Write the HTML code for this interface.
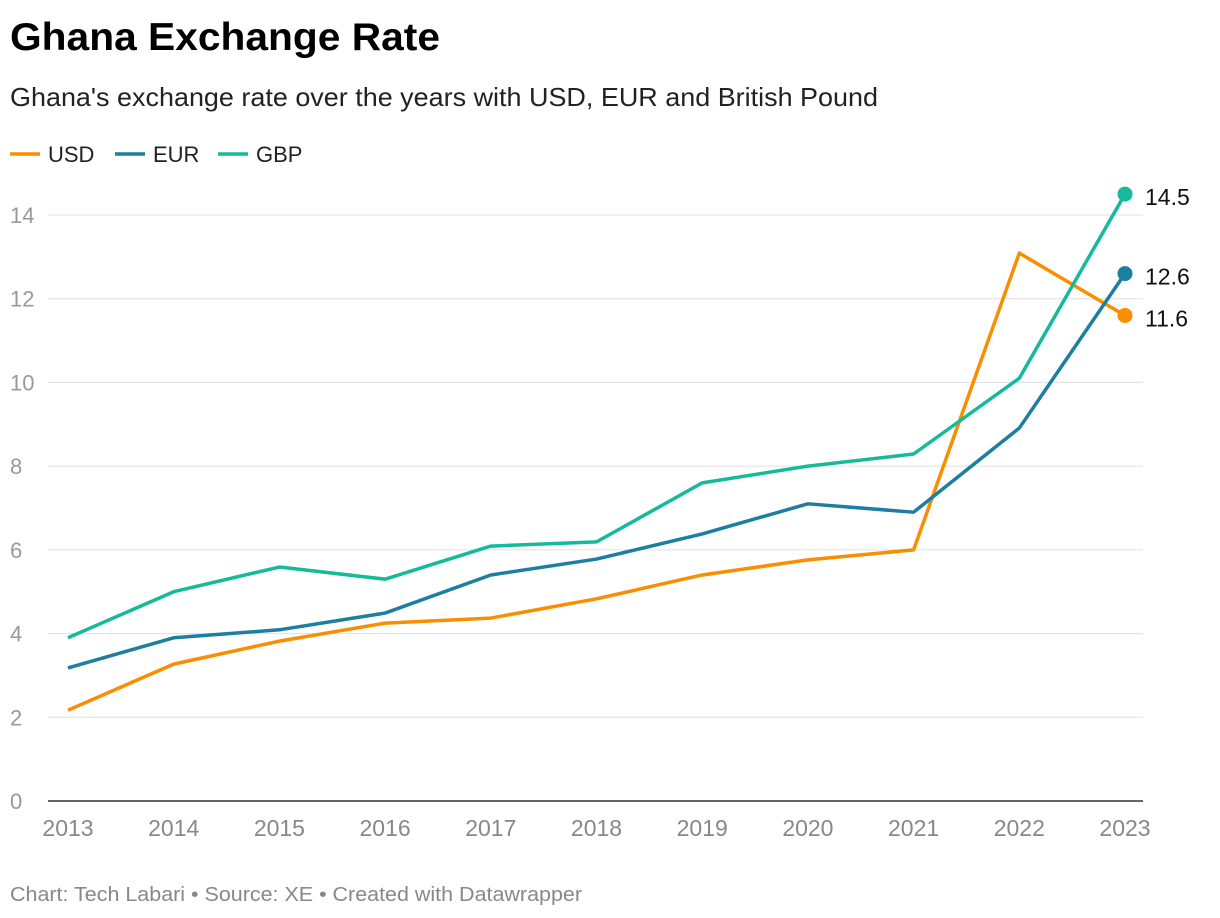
<!DOCTYPE html>
<html><head><meta charset="utf-8"><style>
body{margin:0;background:#fff;font-family:"Liberation Sans",Arial,sans-serif;}
#wrap{position:relative;width:1220px;height:918px;overflow:hidden;}
</style></head><body>
<div id="wrap">
<svg id="chart" width="1220" height="918">
<text x="10" y="50" font-size="39" font-weight="bold" fill="#000" textLength="430" lengthAdjust="spacingAndGlyphs">Ghana Exchange Rate</text>
<text x="10" y="106" font-size="26" fill="#222" textLength="868" lengthAdjust="spacingAndGlyphs">Ghana's exchange rate over the years with USD, EUR and British Pound</text>
<g id="legend"></g>
<g id="grid"></g><g id="lines"></g><g id="labels"></g>
<text x="10" y="901" font-size="20" fill="#888" textLength="572" lengthAdjust="spacingAndGlyphs">Chart: Tech Labari • Source: XE • Created with Datawrapper</text>
</svg></div>
<script>
const years=[2013,2014,2015,2016,2017,2018,2019,2020,2021,2022,2023];
const usd=[2.17,3.27,3.82,4.25,4.37,4.83,5.4,5.76,6.0,13.09,11.6];
const eur=[3.18,3.9,4.09,4.49,5.4,5.78,6.38,7.1,6.9,8.91,12.6];
const gbp=[3.9,5.0,5.59,5.3,6.09,6.19,7.6,8.0,8.29,10.1,14.5];
const yTicks=[0,2,4,6,8,10,12,14];
const seriesNames=["USD","EUR","GBP"];
const NS="http://www.w3.org/2000/svg";
const X=i=>68+i*(1125-68)/(years.length-1);
const Y=v=>801-v*(801-215)/14;
function mk(t,a,p){const e=document.createElementNS(NS,t);for(const k in a)e.setAttribute(k,a[k]);p.appendChild(e);return e;}
const grid=document.getElementById('grid');
yTicks.forEach(v=>{
 const l=mk('line',{x1:48,x2:1143,y1:Y(v),y2:Y(v),stroke:v===0?'#333':'#e0e0e0','stroke-width':v===0?1.5:1},grid);
 
 
 const t=mk('text',{x:10,y:Y(v)+8,'font-size':22,fill:'#999'},grid);t.textContent=v;
 
 
});
years.forEach((yr,i)=>{
 const t=mk('text',{x:X(i),y:836,'font-size':23,fill:'#888','text-anchor':'middle'},grid);t.textContent=yr;
 
 
});
const colors=['#f98e00','#1c7ea0','#15ba9b'];
const data=[usd,eur,gbp];
const lines=document.getElementById('lines'),labels=document.getElementById('labels'),legend=document.getElementById('legend');
let lx=10;
data.forEach((d,s)=>{
 const p=mk('polyline',{points:d.map((v,i)=>X(i)+','+Y(v)).join(' '),fill:'none',stroke:colors[s],'stroke-width':3.5,'stroke-linejoin':'round'},lines);
 
 
 const last=d.length-1;
 const c=mk('circle',{cx:X(last),cy:Y(d[last]),r:7.5,fill:colors[s]},lines);
 
 
 const t=mk('text',{x:1145,y:Y(d[last])+11,'font-size':23,fill:'#111'},labels);t.textContent=d[last].toFixed(1);
 
 
 const ll=mk('line',{x1:lx,x2:lx+30,y1:154,y2:154,stroke:colors[s],'stroke-width':3.5},legend);
 
 
 const lt=mk('text',{x:lx+38,y:162,'font-size':22,fill:'#222'},legend);lt.textContent=seriesNames[s];
 
 
 lx+=s===0?105:103;
});
</script>
</body></html>
